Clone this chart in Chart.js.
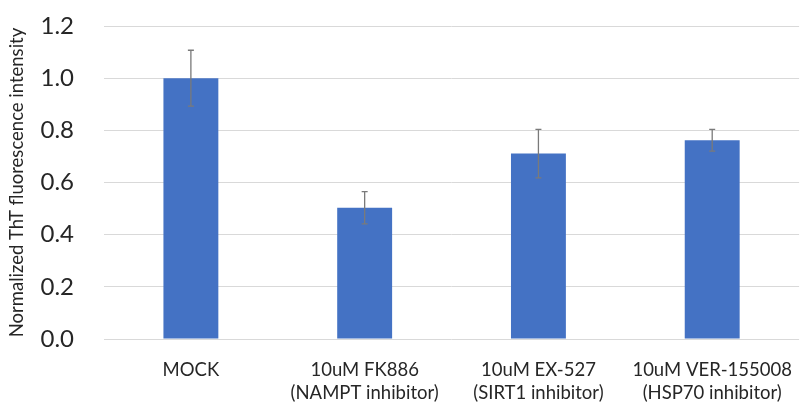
<!DOCTYPE html>
<html>
<head>
<meta charset="utf-8">
<script src="https://cdn.jsdelivr.net/npm/chart.js@4/dist/chart.umd.min.js"></script>
<style>
html,body{margin:0;padding:0;background:#fff;}
#wrap{width:811px;height:408px;position:relative;}
</style>
</head>
<body>
<div id="wrap"><canvas id="c" width="811" height="408"></canvas></div>
<script>
const categories = [["MOCK"], ["10uM FK886", "(NAMPT inhibitor)"], ["10uM EX-527", "(SIRT1 inhibitor)"], ["10uM VER-155008", "(HSP70 inhibitor)"]];
const values = [1.0, 0.503, 0.711, 0.762];
const errors = [0.107, 0.062, 0.093, 0.042];
const yTicks = [0, 0.2, 0.4, 0.6, 0.8, 1.0, 1.2];

const errorBarPlugin = {
  id: 'errorBars',
  afterDatasetsDraw(chart) {
    const ctx = chart.ctx;
    const meta = chart.getDatasetMeta(0);
    const y = chart.scales.y;
    ctx.save();
    ctx.strokeStyle = '#7a7a7a';
    ctx.lineWidth = 1.3;
    meta.data.forEach((bar, i) => {
      const v = values[i], e = errors[i];
      const yt = y.getPixelForValue(v + e);
      const yb = y.getPixelForValue(v - e);
      const x = bar.x;
      ctx.beginPath();
      ctx.moveTo(x, yt); ctx.lineTo(x, yb);
      ctx.moveTo(x - 3, yt); ctx.lineTo(x + 3, yt);
      ctx.moveTo(x - 3, yb); ctx.lineTo(x + 3, yb);
      ctx.stroke();
    });
    ctx.restore();
  }
};

new Chart(document.getElementById('c'), {
  type: 'bar',
  data: {
    labels: categories,
    datasets: [{
      data: values,
      backgroundColor: '#4472c4',
      borderWidth: 0,
      categoryPercentage: 1.0,
      barPercentage: 0.316
    }]
  },
  options: {
    responsive: false,
    animation: false,
    devicePixelRatio: 1,
    layout: { padding: { top: 26, right: 0, left: 6, bottom: 0 } },
    plugins: { legend: { display: false }, tooltip: { enabled: false } },
    scales: {
      x: {
        grid: { display: false, drawTicks: false },
        border: { display: false },
        ticks: {
          color: '#262626',
          font: { family: 'Lato', size: 18.5, lineHeight: 1.25 },
          padding: 19,
          maxRotation: 0,
          autoSkip: false
        },
        afterFit(s) { s.height = 69; }
      },
      y: {
        min: 0, max: 1.2,
        afterBuildTicks(s) { s.ticks = yTicks.map(v => ({ value: v })); },
        grid: { color: '#d9d9d9', lineWidth: 1, drawTicks: false },
        border: { display: false },
        ticks: {
          color: '#262626',
          font: { family: 'Lato', size: 24 },
          padding: 30,
          callback: v => v.toFixed(1)
        },
        title: {
          display: true,
          text: 'Normalized ThT fluorescence intensity',
          color: '#262626',
          font: { family: 'Lato', size: 18.5 },
          padding: { top: 0, bottom: 4 }
        },
        afterFit(s) { s.width = 98; s.paddingTop = 0; s.paddingBottom = 0; }
      }
    }
  },
  plugins: [errorBarPlugin]
});
</script>
</body>
</html>
